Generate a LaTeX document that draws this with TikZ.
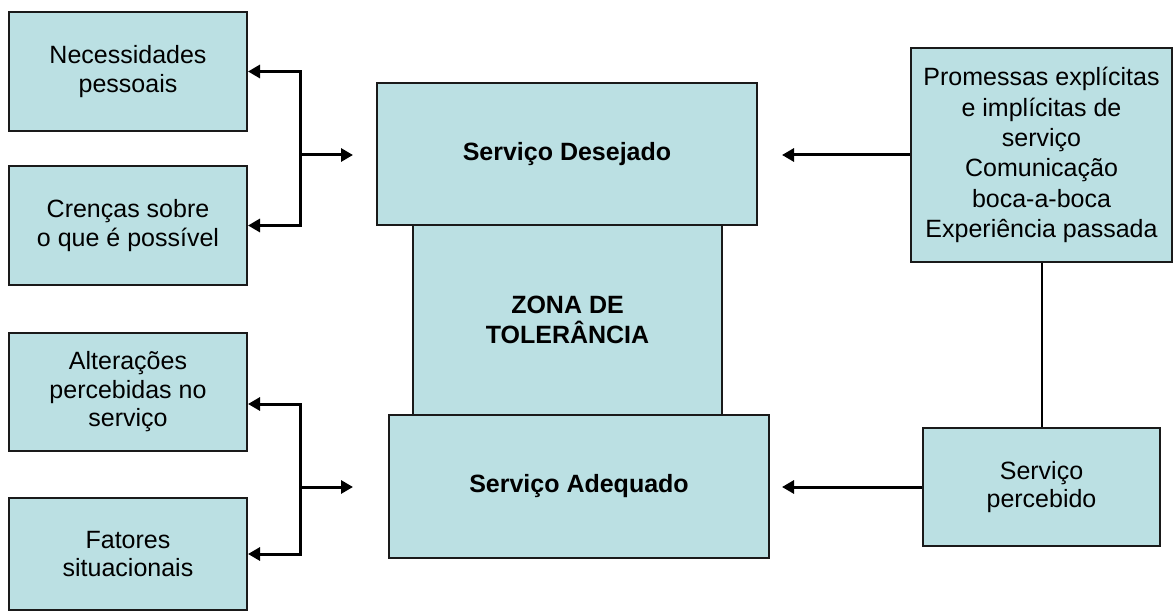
\documentclass[tikz,border=0pt]{standalone}
\usepackage{fontspec}
\setmainfont{Liberation Sans}
\usetikzlibrary{arrows.meta}
\definecolor{boxfill}{HTML}{BBE0E3}
\definecolor{boxline}{HTML}{1A1A1A}
\begin{document}
\begin{tikzpicture}[x=1pt,y=-1pt,
  box/.style={draw=boxline,line width=2pt,fill=boxfill,inner sep=0pt,align=center,
    font=\fontsize{25}{28.5}\selectfont},
  boldbox/.style={box,font=\fontsize{25}{30}\selectfont\bfseries},
  conn/.style={draw=black,line width=3pt,-{Triangle[length=12pt,width=13pt]}},
  plain/.style={draw=black,line width=2pt}]
\useasboundingbox (0,0) rectangle (1173,612);
% left boxes
\node[box,minimum width=238pt,minimum height=119pt] (n1) at (128,71.5) {Necessidades\\pessoais};
\node[box,minimum width=238pt,minimum height=119pt] (n2) at (128,225.5) {Crenças sobre\\o que é possível};
\node[box,minimum width=238pt,minimum height=118pt] (n3) at (128,392) {Alterações\\percebidas no\\serviço};
\node[box,minimum width=238pt,minimum height=112pt] (n4) at (128,554) {Fatores\\situacionais};
% central column
\node[boldbox,minimum width=309pt,minimum height=190pt] (zona) at (567.5,320) {ZONA DE\\TOLERÂNCIA};
\node[boldbox,minimum width=380pt,minimum height=142pt] (des) at (567,154) {Serviço Desejado};
\node[boldbox,minimum width=380pt,minimum height=143pt] (adq) at (579,486.5) {Serviço Adequado};
% right boxes
\node[box,font=\fontsize{25}{30.4}\selectfont,minimum width=261pt,minimum height=214pt] (prom) at (1041.5,155)
  {Promessas explícitas\\e implícitas de\\serviço\\Comunicação\\boca-a-boca\\Experiência passada};
\node[box,minimum width=237pt,minimum height=118pt] (perc) at (1041.5,487) {Serviço\\percebido};
% junctions and arrow tips
\coordinate (j1) at (300,155);
\coordinate (j2) at (300,487);
\coordinate (t1) at (353,155);
\coordinate (t2) at (353,487);
\coordinate (t3) at (782,155);
\coordinate (t4) at (782,487);
% left brackets
\draw[conn] (j1) |- (n1.east);
\draw[conn] (j1) |- (n2.east);
\draw[conn] (j1) -- (t1);
\draw[conn] (j2) |- ([yshift=-12pt]n3.east);
\draw[conn] (j2) |- (n4.east);
\draw[conn] (j2) -- (t2);
% right arrows
\draw[conn] (prom.west) -- (t3);
\draw[conn] (perc.west) -- (t4);
\draw[plain] (prom.south) -- (perc.north);
\end{tikzpicture}
\end{document}
